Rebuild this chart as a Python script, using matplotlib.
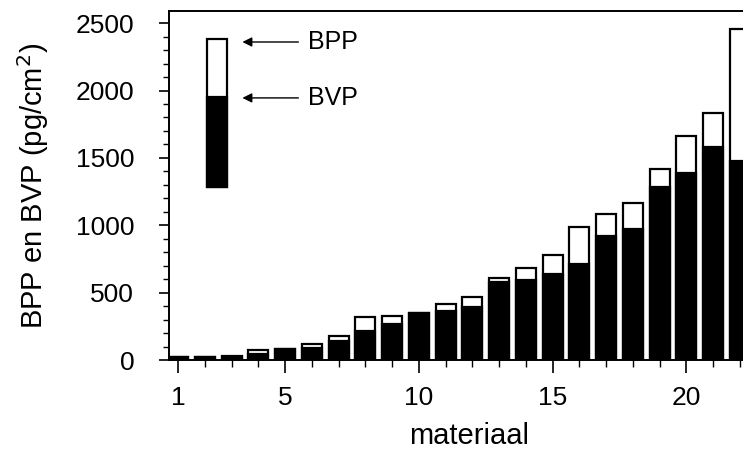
import numpy as np
import matplotlib
matplotlib.use("Agg")
import matplotlib.pyplot as plt
from matplotlib.ticker import MultipleLocator

plt.rcParams['font.family'] = ['Liberation Sans', 'DejaVu Sans']

materiaal = list(range(1, 23))
bpp = [25, 25, 30, 75, 85, 120, 180, 320, 330, 350, 415, 465, 605, 685, 780,
       985, 1080, 1165, 1420, 1665, 1830, 2455]
bvp = [20, 20, 25, 45, 85, 90, 140, 215, 265, 350, 360, 395, 580, 590, 635,
       715, 920, 975, 1285, 1385, 1580, 1480]

# legend bar drawn in data coordinates
legend_x = 2.46
legend_bottom = 1285
legend_bvp = 1950
legend_bpp = 2385

fig = plt.figure(figsize=(7.43, 4.54), dpi=100)
ax = fig.add_axes([169 / 743, 1 - 360 / 454, 600 / 743, 349 / 454])

w = 0.75
ax.bar(materiaal, bpp, width=w, color='white', edgecolor='black', linewidth=1.6, zorder=2)
ax.bar(materiaal, bvp, width=w, color='black', edgecolor='black', linewidth=1.6, zorder=3)

# legend
ax.bar([legend_x], [legend_bpp - legend_bottom], bottom=legend_bottom, width=w,
       color='white', edgecolor='black', linewidth=1.6, zorder=2)
ax.bar([legend_x], [legend_bvp - legend_bottom], bottom=legend_bottom, width=w,
       color='black', edgecolor='black', linewidth=1.6, zorder=3)
for yv, lab in [(2360, 'BPP'), (1945, 'BVP')]:
    ax.annotate('', xy=(3.3, yv), xytext=(5.6, yv),
                arrowprops=dict(arrowstyle='-|>', color='black', lw=1.0,
                                mutation_scale=14))
    ax.text(5.85, yv, lab, fontsize=18, va='center', ha='left')

ax.set_xlim(0.66, 0.66 + 600 / 26.75)
ax.set_ylim(0, 2590)
ax.set_xticks([1, 5, 10, 15, 20])
ax.xaxis.set_minor_locator(MultipleLocator(1))
ax.set_yticks([0, 500, 1000, 1500, 2000, 2500])
ax.yaxis.set_minor_locator(MultipleLocator(100))

ax.tick_params(axis='x', which='major', direction='out', length=9, width=1.2,
               labelsize=19, pad=10)
ax.tick_params(axis='x', which='minor', direction='out', length=5, width=1.0)
ax.tick_params(axis='y', which='major', direction='out', length=7, width=1.2,
               labelsize=19, pad=18)
ax.tick_params(axis='y', which='minor', direction='out', length=4, width=1.0)

for s in ['left', 'bottom', 'top']:
    ax.spines[s].set_linewidth(1.4)
ax.spines['right'].set_visible(False)

ax.set_xlabel('materiaal', fontsize=21, labelpad=8)
ax.set_ylabel('BPP en BVP (pg/cm$^2$)', fontsize=21, labelpad=18)

fig.savefig('out.png', dpi=100)
